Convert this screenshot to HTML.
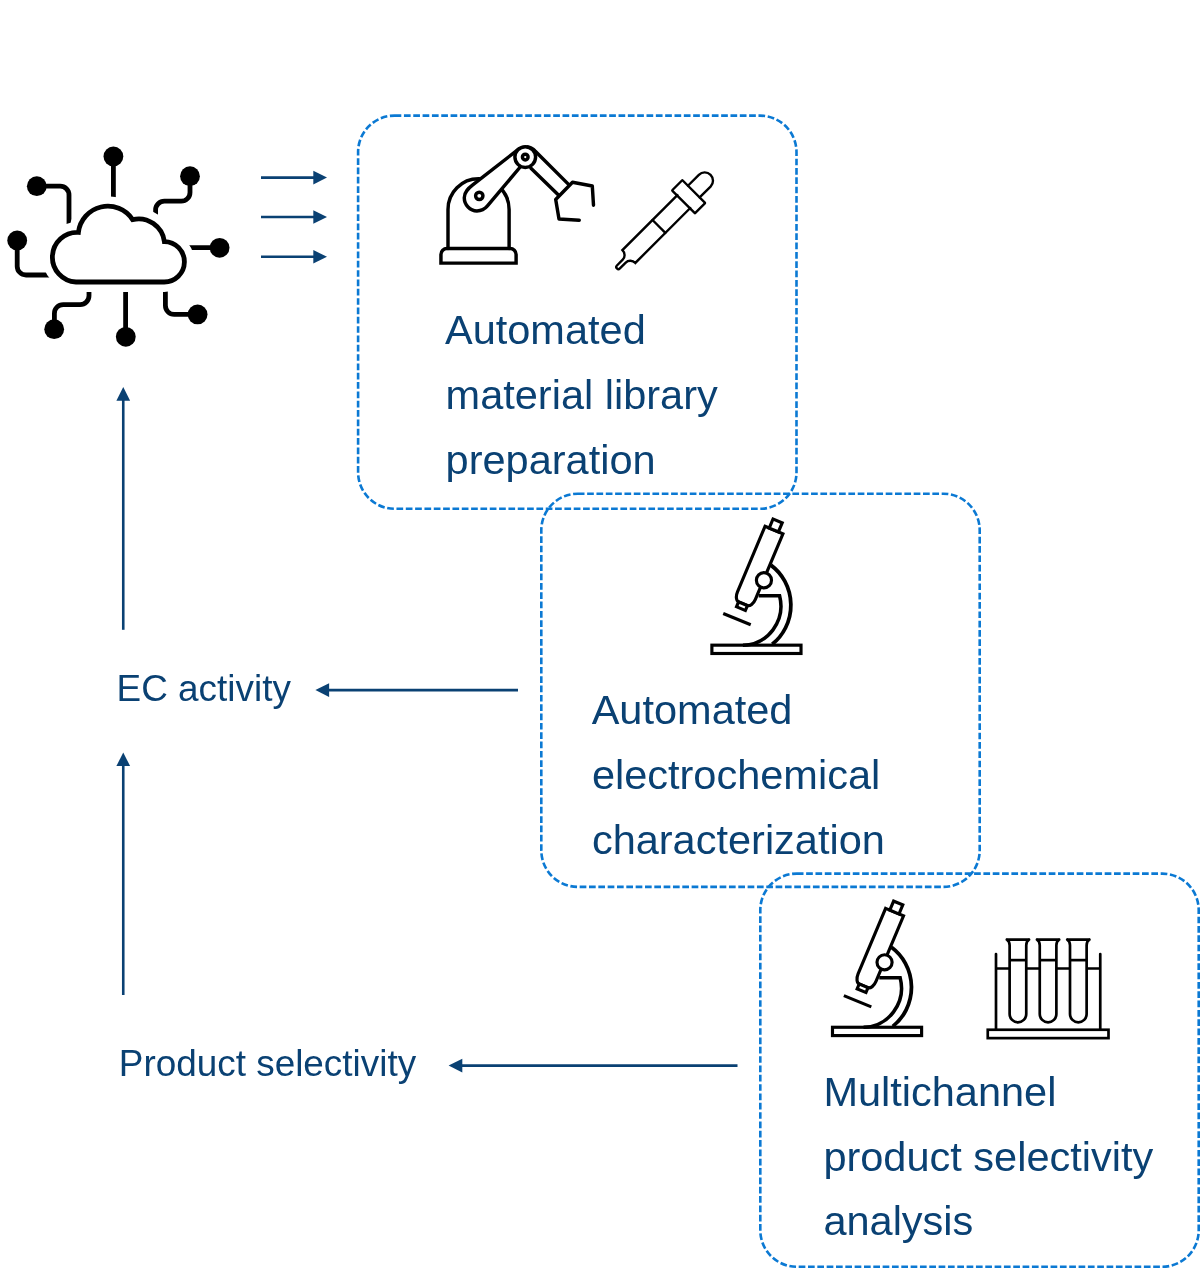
<!DOCTYPE html>
<html lang="en">
<head>
<meta charset="utf-8">
<title>Automated workflow</title>
<style>
html,body{margin:0;padding:0;background:#fff;}
body{width:1200px;height:1270px;overflow:hidden;position:relative;font-family:"Liberation Sans",sans-serif;}
svg{position:absolute;left:0;top:0;display:block;will-change:transform;transform:translateZ(0);}
.box{fill:none;stroke:#0b79d3;stroke-width:2.6;stroke-dasharray:6.7 2.63;}
.t{font-family:"Liberation Sans",sans-serif;fill:#0a4173;}
.big{font-size:41.5px;}
.lab{font-size:36.9px;}
.arr{stroke:#0a4173;stroke-width:2.6;fill:none;}
.ah{fill:#0a4173;stroke:none;}
.ic{fill:none;stroke:#000;stroke-linecap:round;stroke-linejoin:round;}
</style>
</head>
<body>
<svg width="1200" height="1270" viewBox="0 0 1200 1270">
<rect width="1200" height="1270" fill="#ffffff"/>

<!-- dashed boxes -->
<rect class="box" x="358.1" y="115.6" width="438.4" height="393.2" rx="36.5" ry="36.5"/>
<rect class="box" x="541.3" y="493.7" width="438.4" height="393.2" rx="36.5" ry="36.5"/>
<rect class="box" x="760.3" y="873.6" width="438.4" height="393.2" rx="36.5" ry="36.5"/>

<!-- box text -->
<text class="t big" x="445" y="344">Automated</text>
<text class="t big" x="445.6" y="408.9">material library</text>
<text class="t big" x="445.6" y="473.8">preparation</text>

<text class="t big" x="591.7" y="724">Automated</text>
<text class="t big" x="591.9" y="788.8">electrochemical</text>
<text class="t big" x="591.9" y="853.5">characterization</text>

<text class="t big" x="823.4" y="1105.9">Multichannel</text>
<text class="t big" x="823.4" y="1170.5">product selectivity</text>
<text class="t big" x="823.4" y="1235.1">analysis</text>

<!-- labels -->
<text class="t lab" x="116.6" y="701.2">EC activity</text>
<text class="t lab" x="118.8" y="1075.9">Product selectivity</text>

<!-- arrows -->
<g id="arrows">
<line class="arr" x1="261" y1="177.6" x2="316" y2="177.6"/><path class="ah" d="M327 177.6 L313.3 170.8 V184.4 Z"/>
<line class="arr" x1="261" y1="217" x2="316" y2="217"/><path class="ah" d="M327 217 L313.3 210.2 V223.8 Z"/>
<line class="arr" x1="261" y1="256.8" x2="316" y2="256.8"/><path class="ah" d="M327 256.8 L313.3 250 V263.6 Z"/>

<line class="arr" x1="123.25" y1="629.8" x2="123.25" y2="399"/><path class="ah" d="M123.25 387 L116.4 400.8 H130.1 Z"/>
<line class="arr" x1="123.25" y1="995" x2="123.25" y2="764"/><path class="ah" d="M123.25 752.4 L116.4 766.1 H130.1 Z"/>

<line class="arr" x1="518" y1="690.1" x2="327" y2="690.1"/><path class="ah" d="M315.4 690.1 L329.1 683.3 V696.9 Z"/>
<line class="arr" x1="737.5" y1="1065.6" x2="460" y2="1065.6"/><path class="ah" d="M448.6 1065.6 L462.3 1058.8 V1072.4 Z"/>
</g>

<!-- cloud icon -->
<g id="cloud" transform="translate(0,140) scale(0.2)">
  <g class="ic" stroke-width="24" style="stroke-linecap:butt">
    <path d="M567 82 V330"/>
    <path d="M950 181 V262 A44 44 0 0 1 906 306 H822 A44 44 0 0 0 778 350 V420"/>
    <path d="M184 231 H301 A44 44 0 0 1 345 275 V470"/>
    <path d="M86 502 V631 A44 44 0 0 0 130 675 H300"/>
    <path d="M900 538 H1098"/>
    <path d="M827 710 V828 A44 44 0 0 0 871 872 H988"/>
    <path d="M628 710 V984"/>
    <path d="M445 710 V779 A44 44 0 0 1 401 823 H316 A44 44 0 0 0 272 867 V946"/>
  </g>
  <path d="M380 710 A124 124 0 0 1 392 462 A148 148 0 0 1 663 398 A130 130 0 0 1 822 508 A101 101 0 0 1 820 710 Z" fill="#fff" stroke="#fff" stroke-width="100" stroke-linejoin="round"/>
  <path d="M380 710 A124 124 0 0 1 392 462 A148 148 0 0 1 663 398 A130 130 0 0 1 822 508 A101 101 0 0 1 820 710 Z" fill="none" stroke="#000" stroke-width="24" stroke-linejoin="miter"/>
  <g fill="#000">
    <circle cx="567" cy="82" r="49.5"/>
    <circle cx="950" cy="181" r="49.5"/>
    <circle cx="184" cy="231" r="49.5"/>
    <circle cx="86" cy="502" r="49.5"/>
    <circle cx="1098" cy="539" r="49.5"/>
    <circle cx="988" cy="872" r="49.5"/>
    <circle cx="629" cy="984" r="49.5"/>
    <circle cx="271" cy="946" r="49.5"/>
  </g>
</g>

<!-- robot arm icon -->
<g id="robot" transform="translate(430,135) scale(0.15)">
  <g class="ic" stroke-width="23">
    <path d="M73 854 V796 A40 40 0 0 1 113 756 H534 A40 40 0 0 1 574 796 V854 Z" style="stroke-linejoin:miter"/>
    <path d="M120 756 V496 A203.7 203.7 0 0 1 527.4 496 V756"/>
    <path d="M592.6 92.6 L285 333 C257.4 354.5 228.5 378 228.5 418 C228.5 466 267 506 313 506 C348 506 366.9 492.1 383 473 L600 215 Z" fill="#fff"/>
    <path d="M650 80 Q680 84 700.5 106.1 L922 327.6 M673 222 L858 402"/>
    <circle cx="635" cy="147" r="69" fill="#fff"/>
    <circle cx="635" cy="147" r="19"/>
    <circle cx="328.5" cy="405.5" r="24.5"/>
    <path d="M995 568 L860 560 L838 430 L950 315 L1082 340 L1090 468"/>
  </g>
</g>

<!-- dropper icon -->
<g id="dropper" transform="translate(617.3,267.7) scale(0.10833) rotate(-45) translate(0,2.5)">
  <g class="ic" stroke-width="22" style="stroke-linejoin:miter">
    <path d="M866 -84 H148.5 A60.5 64.5 0 0 1 88 -19.5 H12 A19.5 19.5 0 0 0 12 19.5 H88 A60.5 64.5 0 0 1 148.5 84 H866"/>
    <path d="M541 -84 V84"/>
    <rect x="862" y="-149.5" width="134" height="299" rx="5" style="stroke-linejoin:round"/>
    <path d="M996 -76.5 H1138.6 A76.5 76.5 0 0 1 1138.6 76.5 H996"/>
  </g>
</g>

<!-- microscope icons -->
<defs>
<g id="micro">
  <g class="ic" stroke-width="25" style="stroke-linecap:butt;stroke-linejoin:miter">
    <rect x="134" y="1112" width="707" height="66"/>
    <path d="M602 477 A385.5 393.5 0 0 1 612.5 1105" stroke-width="30"/>
    <path d="M505 720 H671 A301 312 0 0 1 380 1112" stroke-width="28"/>
    <path d="M224 861 L442 950"/>
    <g transform="translate(547,597) rotate(22.8)">
      <path d="M-158 -398 H-4 V166 A40 70 0 0 1 -44 236 H-118 A40 70 0 0 1 -158 166 Z" fill="#fff"/>
      <rect x="-122" y="-476" width="79" height="78" fill="#fff"/>
      <rect x="-119" y="236" width="76" height="42" fill="#fff"/>
    </g>
    <circle cx="547" cy="597" r="60" fill="#fff"/>
  </g>
</g>
</defs>
<use href="#micro" transform="translate(695,505) scale(0.12605)"/>
<use href="#micro" transform="translate(815.6,887.1) scale(0.12605)"/>

<!-- test tubes icon -->
<g id="tubes" transform="translate(975,925) scale(0.125)">
  <g class="ic" stroke-width="21.5">
    <rect x="102" y="838" width="966" height="67" style="stroke-linejoin:miter"/>
    <path d="M168 232 V838 M1002 232 V838"/>
    <path d="M168 348 H1002" style="stroke-linecap:butt"/>
    <g id="tube1">
      <path d="M277 150 V712 A66.5 66.5 0 0 0 410 712 V150 Z" fill="#fff" stroke="none"/>
      <path d="M255 117 H432 M255 117 Q277 132 277 162 V712 A66.5 66.5 0 0 0 410 712 V162 Q410 132 432 117"/>
      <path d="M277 281 H410" style="stroke-linecap:butt"/>
    </g>
    <use href="#tube1" x="241"/>
    <use href="#tube1" x="483"/>
  </g>
</g>
</svg>
</body>
</html>
